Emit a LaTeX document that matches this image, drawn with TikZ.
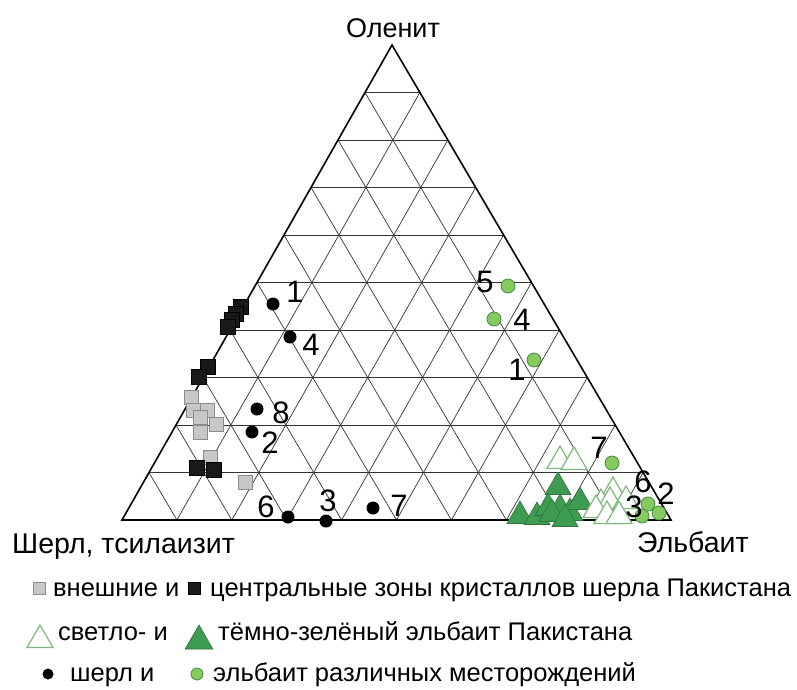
\documentclass[tikz,border=0pt]{standalone}
\usepackage{fontspec}
\setmainfont{Liberation Sans}
\usetikzlibrary{calc,shapes.geometric}

\definecolor{lgreen}{HTML}{7DB87A}
\definecolor{dgreen}{HTML}{3E9B52}
\definecolor{dotfill}{HTML}{86C95F}
\definecolor{dotline}{HTML}{3F8C3F}

\tikzset{
  gridline/.style={draw=black!80, line width=0.7pt},
  sqgray/.style={draw=black!45, fill=black!22, minimum size=14pt, inner sep=0pt},
  sqblack/.style={draw=black, fill=black!90, minimum size=15pt, inner sep=0pt},
  triopen/.style={regular polygon, regular polygon sides=3, draw=lgreen, fill=white, line width=1.2pt, minimum size=30pt, inner sep=0pt},
  trifull/.style={regular polygon, regular polygon sides=3, draw=dgreen!75!black, fill=dgreen, line width=0.6pt, minimum size=30pt, inner sep=0pt},
  dotblack/.style={circle, fill=black, minimum size=13pt, inner sep=0pt},
  dotgreen/.style={circle, draw=dotline, fill=dotfill, line width=0.8pt, minimum size=14pt, inner sep=0pt},
  num/.style={inner sep=0pt, font=\fontsize{31}{32}\selectfont},
  axlabel/.style={inner sep=0pt, anchor=base, font=\fontsize{28.5}{30}\selectfont},
  legtext/.style={inner sep=0pt, anchor=base west, font=\fontsize{25.5}{28}\selectfont}
}

\begin{document}
\begin{tikzpicture}[x=1pt, y=-1pt]
  \useasboundingbox (0,0) rectangle (797,689);

  % Draw the corners
  \coordinate (A) at (122,520);
  \coordinate (B) at (671,520);
  \coordinate (C) at (392,45);

  % Draw the grid
  \foreach \k in {1,...,9} {
    \draw[gridline] ($(A)!\k/10!(C)$) -- ($(B)!\k/10!(C)$);
    \draw[gridline] ($(A)!\k/10!(B)$) -- ($(C)!\k/10!(B)$);
    \draw[gridline] ($(B)!\k/10!(A)$) -- ($(C)!\k/10!(A)$);
  }
  \draw[line width=1.6pt, line join=miter] (A) -- (B) -- (C) -- cycle;

  % Draw the corner labels
  \node[axlabel, font=\fontsize{27}{30}\selectfont] (olenit) at (393,37) {Оленит};
  \node[axlabel, anchor=base west] (sherl) at (12,553) {Шерл, тсилаизит};
  \node[axlabel, anchor=base west] (elbait) at (637,552) {Эльбаит};

  % Draw the squares
  \foreach \x/\y [count=\i] in {191/397, 193/410, 207/410, 200/417, 216/424, 200/432, 210/457, 245/482}
    \node[sqgray] (gsq\i) at (\x,\y) {};
  \foreach \x/\y [count=\i] in {241/307, 236/314, 232/320, 228/327, 208/367, 199/377, 197/468, 214/470}
    \node[sqblack] (bsq\i) at (\x,\y) {};

  % Draw the black dots
  \foreach \x/\y [count=\i] in {273/304, 290/337, 257/409, 252/432, 288/517, 326/521, 373/508}
    \node[dotblack] (bdot\i) at (\x,\y) {};
  \foreach \x/\y/\t [count=\i] in {295/292/1, 311/345/4, 281/413/8, 270/443/2, 266/507/6, 328/501/3, 399/506/7}
    \node[num] (bnum\i) at (\x,\y) {\t};

  % Draw the triangles
  \foreach \x/\y [count=\i] in {558/487, 520/516, 537/517, 548/508, 560/509, 552/514, 570/513, 580/502, 565/519}
    \node[trifull] (dtri\i) at (\x,\y) {};
  \foreach \x/\y [count=\i] in {560/461, 574/462, 613/492, 601/504, 610/502, 626/501, 596/510, 607/516, 619/516}
    \node[triopen] (ltri\i) at (\x,\y) {};

  % Draw the green dots
  \foreach \x/\y [count=\i] in {508/286, 494/319, 534/360, 612/463, 648/504, 642/516, 659/513}
    \node[dotgreen] (gdot\i) at (\x,\y) {};
  \foreach \x/\y/\t [count=\i] in {485/282/5, 522/320/4, 517/370/1, 599/448/7, 643/482/6, 666/494/2, 634/507/3}
    \node[num] (gnum\i) at (\x,\y) {\t};

  % Draw the legend
  \node[sqgray, minimum size=12pt] (leg1a) at (39,588) {};
  \node[legtext] (leg1b) at (53,596) {внешние и};
  \node[sqblack, minimum size=12pt] (leg1c) at (194,588) {};
  \node[legtext] (leg1d) at (210,596) {центральные зоны кристаллов шерла Пакистана};

  \node[triopen, minimum size=30pt] (leg2a) at (40,640) {};
  \node[legtext] (leg2b) at (58,640) {светло- и};
  \node[trifull, minimum size=32pt] (leg2c) at (199,641) {};
  \node[legtext] (leg2d) at (218,640) {тёмно-зелёный эльбаит Пакистана};

  \node[dotblack, minimum size=11pt] (leg3a) at (48,674) {};
  \node[legtext] (leg3b) at (70,681) {шерл и};
  \node[dotgreen, minimum size=12pt] (leg3c) at (197,674) {};
  \node[legtext] (leg3d) at (213,681) {эльбаит различных месторождений};

\end{tikzpicture}
\end{document}
